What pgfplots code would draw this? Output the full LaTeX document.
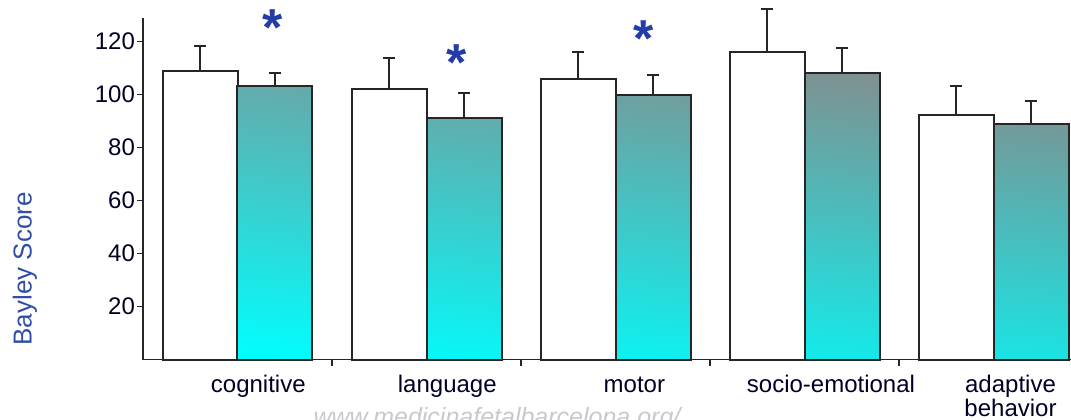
\documentclass[border=0pt]{standalone}
\usepackage{pgfplots}
\pgfplotsset{compat=1.18}
\usepackage{pgfplotstable}
\usepackage{fontspec}
\setmainfont{Liberation Sans}
\usetikzlibrary{shadings}

\definecolor{labelblue}{RGB}{48,78,168}
\definecolor{starblue}{RGB}{36,60,165}
\definecolor{barline}{RGB}{38,38,38}
\definecolor{wmgray}{RGB}{200,200,206}
\definecolor{tealLL}{RGB}{0,255,255}
\definecolor{tealLR}{RGB}{28,226,226}
\definecolor{tealUL}{RGB}{104,168,168}
\definecolor{tealUR}{RGB}{136,136,136}

% two-line category name whose baseline is that of its first line
\def\adaptlabel{\vtop{\halign{\hfil##\hfil\cr adaptive\cr behavior\cr}}}

% Bayley scores: controls (ctrl) and cases (case), with SD shown upward
\pgfplotstableread{
idx ctrl  ctrlerr case  caseerr
0   108.9 9.5     103.2 5.0
1   102.0 11.7    91.0  9.6
2   106.0 10.2    99.8  7.7
3   116.2 16.1    108.2 9.5
4   92.3  11.0    88.9  8.6
}\scores

\pgfplotsset{
  sdbar/.style={draw=none, mark=none, forget plot,
    error bars/.cd, y dir=plus, y explicit, error mark=-,
    error bar style={draw=barline, line width=1pt, solid},
    error mark options={rotate=90, draw=barline, line width=1pt, mark size=3pt}},
}

\begin{document}
\begin{tikzpicture}
\begin{axis}[
  at={(0,0)}, anchor=south west,
  x=94.5pt, y=1.325pt,
  xmin=-0.5, xmax=4.42, ymin=0, ymax=129,
  axis lines=left,
  axis line style={-, barline, line width=0.9pt},
  tick align=outside,
  major tick length=3pt,
  tick style={barline, line width=0.9pt},
  xtick={0.5,1.5,2.5,3.5},
  xticklabels={},
  extra x ticks={0.11,1.11,2.10,3.14,4.09},
  extra x tick labels={cognitive,language,motor,socio-emotional,\adaptlabel},
  extra x tick style={major tick length=0pt,
    tick label style={anchor=base, yshift=-16.5pt}},
  ytick={20,40,60,80,100,120},
  /pgf/number format/assume math mode=true,
  ticklabel style={font=\fontsize{12}{11}\selectfont, text=black!85!blue},
  yticklabel style={xshift=2.5pt},
  every axis y label/.style={at={(axis description cs:-0.127,0.265)},
    rotate=90, anchor=center, text=labelblue,
    font=\fontsize{13}{14}\selectfont},
  ylabel={Bayley Score},
  clip=false,
]
% control bars
\addplot[ybar, bar width=37.5pt, bar shift=0pt,
  fill=white, draw=barline, line width=1pt]
  table[x expr=\thisrow{idx}-0.1984, y=ctrl]{\scores};
% case bars: shaded fill, then outline
\addplot[ybar, bar width=37.5pt, bar shift=0pt, draw=none,
  shading=bilinear interpolation,
  lower left=tealLL, lower right=tealLR,
  upper left=tealUL, upper right=tealUR]
  table[x expr=\thisrow{idx}+0.1984, y=case]{\scores};
\addplot[ybar, bar width=37.5pt, bar shift=0pt, fill=none,
  draw=barline, line width=1pt, forget plot]
  table[x expr=\thisrow{idx}+0.1984, y=case]{\scores};
% standard deviations
\addplot[sdbar] table[x expr=\thisrow{idx}-0.1984, y=ctrl, y error=ctrlerr]{\scores};
\addplot[sdbar] table[x expr=\thisrow{idx}+0.1984, y=case, y error=caseerr]{\scores};

% significance marks
\node[text=starblue, font=\fontsize{26}{26}\selectfont\bfseries, yshift=-3.5pt] at (axis cs:0.185,128) {*};
\node[text=starblue, font=\fontsize{26}{26}\selectfont\bfseries, yshift=-3.5pt] at (axis cs:1.16,114.5) {*};
\node[text=starblue, font=\fontsize{26}{26}\selectfont\bfseries, yshift=-3.5pt] at (axis cs:2.15,123.7) {*};
\end{axis}
\node[text=wmgray, font=\fontsize{12.5}{13}\selectfont\itshape, anchor=base]
  at (177pt,-32.75pt) {www.medicinafetalbarcelona.org/};
\pgfresetboundingbox
\useasboundingbox (-71.5pt,-29.75pt) rectangle (464pt,179.75pt);
\end{tikzpicture}
\end{document}
